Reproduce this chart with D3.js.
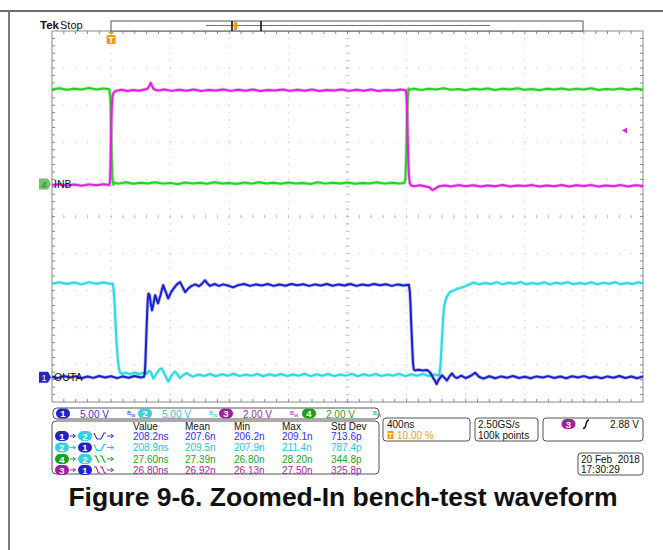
<!DOCTYPE html>
<html><head><meta charset="utf-8">
<script src="https://cdn.jsdelivr.net/npm/d3@7"></script>
<style>body{margin:0;background:#fff}svg{display:block}text{font-family:"Liberation Sans",Arial,sans-serif}</style>
</head><body><svg id="c" width="663" height="550"></svg>
<script>
// ---------- data ----------
const chNames = ["1","2","3","4"];
const chTraceColors = ["#1a20cc","#2ad9e4","#e21ee2","#22d41e"];
const chTextColors = ["#3030e6","#1cc6dc","#b01cb0","#1ea21e"];
const chBadgeColors = ["#2424c4","#36d0e0","#a01ea0","#1e9e1e"];
const chVoltsPerDiv = [5, 5, 2, 2];
const chScaleLabels = ["5.00 V", "5.00 V", "2.00 V", "2.00 V"];
const chOffsetDiv = [-4.33, -4.33, 0.876, 0.876];
const groundLabels = [{ch: 3, text: "INB"}, {ch: 0, text: "OUTA"}];

const timePerDiv = "400ns";
const triggerPos = "10.00 %";
const sampleRate = "2.50GS/s";
const recordLen = "100k points";
const triggerLevel = 2.88;
const triggerLabel = "2.88 V";
const dateText = "20 Feb  2018";
const timeText = "17:30:29";
const titleText = "Figure 9-6. Zoomed-In bench-test waveform";

const measHeaders = ["Value", "Mean", "Min", "Max", "Std Dev"];
const measFrom = [1, 2, 4, 3];
const measTo = [2, 1, 2, 1];
const measEdge = ["fr", "fr", "ff", "ff"];
const measValue = ["208.2ns", "208.9ns", "27.60ns", "26.80ns"];
const measMean = ["207.6n", "209.5n", "27.39n", "26.92n"];
const measMin = ["206.2n", "207.9n", "26.80n", "26.13n"];
const measMax = ["209.1n", "211.4n", "28.20n", "27.50n"];
const measStd = ["713.6p", "787.4p", "344.8p", "325.8p"];

// waveforms: [time ns, volts]
const ch4Wave = [[-400,5.10],[-350,5.16],[-300,5.08],[-250,5.14],[-200,5.09],[-150,5.17],[-100,5.10],[-50,5.15],[-12,5.11],
 [-6,4.7],[-2,3.8],[1,2.6],[4,1.4],[7,0.6],[11,0.15],[16,-0.04],[24,0.08],
 [50,0.02],[100,0.09],[150,0.01],[200,0.07],[250,0.03],[300,0.10],[350,0.02],[400,0.06],[450,-0.01],[500,0.08],[550,0.03],[600,0.07],[650,0.01],[700,0.09],[750,0.03],[800,0.06],[850,0.00],[900,0.08],[950,0.02],[1000,0.09],[1050,0.03],[1100,0.07],[1150,0.01],[1200,0.08],[1250,0.03],[1300,0.06],[1350,0.00],[1400,0.09],[1450,0.02],[1500,0.07],[1550,0.03],[1600,0.08],[1650,0.01],[1700,0.06],[1750,0.03],[1800,0.09],[1850,0.02],[1900,0.07],[1950,0.03],[1985,0.06],
 [1992,0.3],[1996,1.2],[2000,2.5],[2004,3.8],[2008,4.7],[2013,5.15],[2020,5.08],
 [2050,5.14],[2100,5.07],[2150,5.13],[2200,5.09],[2250,5.16],[2300,5.08],[2350,5.12],[2400,5.06],[2450,5.14],[2500,5.09],[2550,5.15],[2600,5.07],[2650,5.13],[2700,5.10],[2750,5.16],[2800,5.08],[2850,5.12],[2900,5.06],[2950,5.14],[3000,5.09],[3050,5.15],[3100,5.08],[3150,5.13],[3200,5.10],[3250,5.16],[3300,5.07],[3350,5.12],[3400,5.09],[3450,5.15],[3500,5.08],[3550,5.13],[3600,5.10]];

const ch3Wave = [[-400,-0.05],[-350,-0.01],[-300,-0.08],[-250,-0.03],[-200,-0.09],[-150,-0.02],[-100,-0.07],[-50,-0.01],[-14,-0.06],
 [-8,0.1],[-5,0.8],[-2,2.0],[1,3.1],[4,4.0],[8,4.6],[13,4.85],[20,4.95],[35,5.02],
 [70,5.08],[110,5.01],[150,5.07],[190,5.03],[225,5.09],[245,5.12],[258,5.28],[268,5.45],[278,5.27],[290,5.10],[320,5.04],
 [360,5.10],[410,5.02],[460,5.08],[510,5.03],[560,5.09],[610,5.01],[660,5.07],[710,5.04],[760,5.10],[810,5.02],[860,5.08],[910,5.03],[960,5.09],[1010,5.01],[1060,5.07],[1110,5.04],[1160,5.10],[1210,5.02],[1260,5.08],[1310,5.03],[1360,5.09],[1410,5.01],[1460,5.07],[1510,5.04],[1560,5.10],[1610,5.02],[1660,5.08],[1710,5.03],[1760,5.09],[1810,5.01],[1860,5.07],[1910,5.04],[1960,5.09],[1995,5.05],
 [2000,4.7],[2004,3.7],[2008,2.4],[2012,1.2],[2016,0.45],[2021,0.05],[2030,-0.08],[2050,-0.12],
 [2090,-0.07],[2130,-0.14],[2155,-0.18],[2175,-0.33],[2195,-0.24],[2220,-0.12],[2260,-0.08],
 [2300,-0.13],[2350,-0.06],[2400,-0.12],[2450,-0.07],[2500,-0.14],[2550,-0.08],[2600,-0.12],[2650,-0.05],[2700,-0.13],[2750,-0.08],[2800,-0.11],[2850,-0.06],[2900,-0.14],[2950,-0.08],[3000,-0.12],[3050,-0.05],[3100,-0.13],[3150,-0.07],[3200,-0.11],[3250,-0.06],[3300,-0.14],[3350,-0.08],[3400,-0.12],[3450,-0.06],[3500,-0.13],[3550,-0.07],[3600,-0.11]];

const ch2Wave = [[-400,12.6],[-350,12.8],[-300,12.55],[-250,12.75],[-200,12.5],[-150,12.8],[-100,12.6],[-50,12.75],[0,12.55],[12,12.6],
 [18,11.5],[24,9.75],[30,7.25],[36,5.0],[42,3.25],[48,1.9],[55,1.0],[62,0.55],[75,0.45],
 [100,0.6],[130,0.4],[160,0.62],[190,0.42],[220,0.58],[242,0.45],
 [255,0.85],[268,0.7],[286,-0.2],[305,0.4],[325,1.0],[342,1.2],[362,0.4],[387,-0.6],[410,0.25],[432,0.75],[448,0.4],[465,-0.12],[490,0.3],[511,0.55],[535,0.25],[555,0.06],
 [590,0.35],[630,0.15],[670,0.42],[710,0.12],[750,0.38],[790,0.18],[830,0.45],[870,0.14],[910,0.36],[950,0.2],[990,0.44],[1030,0.12],[1070,0.38],[1110,0.18],[1150,0.42],[1190,0.15],[1230,0.36],[1270,0.2],[1310,0.45],[1350,0.13],[1390,0.38],[1430,0.18],[1470,0.42],[1510,0.14],[1550,0.36],[1590,0.2],[1630,0.44],[1670,0.12],[1710,0.38],[1750,0.18],[1790,0.42],[1830,0.15],[1870,0.36],[1910,0.2],[1950,0.45],[1990,0.13],[2030,0.38],[2070,0.18],[2110,0.42],[2150,0.15],[2190,0.36],[2215,0.22],
 [2222,0.3],[2230,1.9],[2236,4.0],[2242,6.2],[2248,8.2],[2255,9.6],[2265,10.5],[2280,11.1],[2294,11.5],[2320,11.7],[2340,11.9],[2361,12.0],[2390,12.2],[2420,12.45],[2451,12.75],
 [2490,12.5],[2530,12.7],[2570,12.55],[2610,12.8],[2650,12.5],[2690,12.72],[2730,12.58],[2770,12.8],[2810,12.52],[2850,12.7],[2890,12.55],[2930,12.78],[2970,12.5],[3010,12.72],[3050,12.58],[3090,12.8],[3130,12.52],[3170,12.7],[3210,12.55],[3250,12.78],[3290,12.5],[3330,12.72],[3370,12.58],[3410,12.8],[3450,12.52],[3490,12.7],[3530,12.55],[3570,12.78],[3600,12.6]];

const ch1Wave = [[-400,0.05],[-360,-0.14],[-320,0.15],[-280,-0.06],[-240,0.12],[-200,-0.15],[-160,0.08],[-120,-0.1],[-80,0.15],[-40,-0.05],[0,0.12],[40,-0.13],[80,0.1],[120,-0.08],[160,0.15],[200,-0.06],[222,0.06],
 [228,0.5],[232,2.0],[236,4.25],[240,6.5],[244,8.6],[248,10.4],[253,11.25],[260,11.1],[268,10.0],[277,9.0],[287,9.9],[298,11.05],[308,10.5],[318,9.95],[335,11.1],[352,12.4],[368,11.6],[386,10.6],[405,11.4],[425,12.0],[445,12.5],[467,12.8],[485,12.1],[501,11.45],[520,11.9],[545,12.3],[570,12.5],[595,12.25],[615,12.6],[636,13.05],[655,12.55],[670,12.3],[700,12.55],[730,12.3],[760,12.5],[790,12.35],[826,12.1],[860,12.4],[900,12.55],
 [940,12.3],[980,12.5],[1020,12.35],[1060,12.55],[1100,12.3],[1140,12.48],[1180,12.32],[1220,12.55],[1260,12.38],[1300,12.52],[1340,12.3],[1380,12.5],[1420,12.36],[1460,12.56],[1500,12.32],[1540,12.5],[1580,12.35],[1620,12.55],[1660,12.3],[1700,12.48],[1740,12.34],[1780,12.55],[1820,12.38],[1860,12.52],[1900,12.3],[1940,12.5],[1980,12.36],[2015,12.45],
 [2022,11.5],[2027,9.5],[2031,7.25],[2035,5.6],[2039,3.75],[2043,2.0],[2048,1.1],[2055,0.9],[2080,1.0],[2110,0.9],[2140,0.95],[2160,0.6],[2180,-0.1],[2195,-0.6],[2203,-0.95],[2215,-0.4],[2240,0.25],[2257,-0.1],[2273,-0.45],[2290,0.1],[2307,0.5],[2325,0.05],[2341,-0.12],[2370,0.2],[2400,-0.12],[2430,0.12],[2464,0.6],[2490,0.05],[2520,-0.2],
 [2560,0.12],[2600,-0.14],[2640,0.1],[2680,-0.08],[2720,0.15],[2760,-0.12],[2800,0.06],[2840,-0.15],[2880,0.1],[2920,-0.06],[2960,0.14],[3000,-0.12],[3040,0.08],[3080,-0.15],[3120,0.12],[3160,-0.05],[3200,0.14],[3240,-0.12],[3280,0.06],[3320,-0.14],[3360,0.1],[3400,-0.08],[3440,0.15],[3480,-0.12],[3520,0.08],[3560,-0.15],[3600,0.1]];

const waves = [ch1Wave, ch2Wave, ch3Wave, ch4Wave];
const drawOrder = [3, 2, 1, 0];

// ---------- layout ----------
const svg = d3.select("#c");
const G = {x0: 52, x1: 643, y0: 31, y1: 402};
const nH = 10, nV = 10;
const x = d3.scaleLinear().domain([-400, 3600]).range([G.x0, G.x1]);
const yDiv = d3.scaleLinear().domain([-5, 5]).range([G.y1, G.y0]);
const chY = (ci, v) => yDiv(chOffsetDiv[ci] + v / chVoltsPerDiv[ci]);
const dx = (G.x1 - G.x0) / nH, dy = (G.y1 - G.y0) / nV;

// page frame
svg.append("line").attr("x1", 0).attr("x2", 663).attr("y1", 11).attr("y2", 11).attr("stroke", "#3a3a3a").attr("stroke-width", 1.5);
svg.append("line").attr("x1", 9).attr("x2", 9).attr("y1", 11).attr("y2", 550).attr("stroke", "#7a7a7a").attr("stroke-width", 2);

// grid
const grid = svg.append("g");
const dotCol = "#bdbdbd";
for (let i = 1; i < nH; i++) {
  if (i === nH / 2) continue;
  for (let j = 0; j <= nV * 5; j++) {
    grid.append("rect").attr("x", G.x0 + i * dx - 0.5).attr("y", G.y0 + j * dy / 5 - 0.5).attr("width", 1).attr("height", 1).attr("fill", dotCol);
  }
}
for (let j = 1; j < nV; j++) {
  if (j === nV / 2) continue;
  for (let i = 0; i <= nH * 5; i++) {
    grid.append("rect").attr("x", G.x0 + i * dx / 5 - 0.5).attr("y", G.y0 + j * dy - 0.5).attr("width", 1).attr("height", 1).attr("fill", dotCol);
  }
}
// center lines with ticks
const cx = (G.x0 + G.x1) / 2, cy = (G.y0 + G.y1) / 2;
for (let j = 0; j <= nV * 5; j++) {
  const yy = G.y0 + j * dy / 5;
  grid.append("rect").attr("x", cx - 0.5).attr("y", yy - 0.5).attr("width", 1).attr("height", 1).attr("fill", "#9a9a9a");
  grid.append("line").attr("x1", cx - 2).attr("x2", cx + 2).attr("y1", yy).attr("y2", yy).attr("stroke", "#c8c8c8").attr("stroke-width", 1);
}
for (let i = 0; i <= nH * 5; i++) {
  const xx = G.x0 + i * dx / 5;
  grid.append("rect").attr("x", xx - 0.5).attr("y", cy - 0.5).attr("width", 1).attr("height", 1).attr("fill", "#9a9a9a");
  grid.append("line").attr("x1", xx).attr("x2", xx).attr("y1", cy - 2).attr("y2", cy + 2).attr("stroke", "#c8c8c8").attr("stroke-width", 1);
}
// border + edge ticks
grid.append("rect").attr("x", G.x0).attr("y", G.y0).attr("width", G.x1 - G.x0).attr("height", G.y1 - G.y0)
  .attr("fill", "none").attr("stroke", "#8a8a8a").attr("stroke-width", 1);
for (let i = 1; i < nH * 5; i++) {
  const xx = G.x0 + i * dx / 5;
  grid.append("line").attr("x1", xx).attr("x2", xx).attr("y1", G.y0).attr("y2", G.y0 + 3).attr("stroke", "#8a8a8a");
  grid.append("line").attr("x1", xx).attr("x2", xx).attr("y1", G.y1).attr("y2", G.y1 - 3).attr("stroke", "#8a8a8a");
}
for (let j = 1; j < nV * 5; j++) {
  const yy = G.y0 + j * dy / 5;
  grid.append("line").attr("x1", G.x0).attr("x2", G.x0 + 3).attr("y1", yy).attr("y2", yy).attr("stroke", "#8a8a8a");
  grid.append("line").attr("x1", G.x1).attr("x2", G.x1 - 3).attr("y1", yy).attr("y2", yy).attr("stroke", "#8a8a8a");
}

// traces (soft halo + core, like a persistence display)
const tr = svg.append("g");
drawOrder.forEach(ci => {
  const line = d3.line().x(d => x(d[0])).y(d => chY(ci, d[1]));
  tr.append("path").datum(waves[ci]).attr("d", line).attr("fill", "none")
    .attr("stroke", chTraceColors[ci]).attr("stroke-width", 3.6).attr("stroke-linejoin", "round").attr("opacity", 0.3);
  tr.append("path").datum(waves[ci]).attr("d", line).attr("fill", "none")
    .attr("stroke", chTraceColors[ci]).attr("stroke-width", 2).attr("stroke-linejoin", "round");
});

// top status: Tek Stop + record bar
svg.append("text").attr("x", 40).attr("y", 29).attr("font-size", 11.5).attr("font-weight", "bold").attr("fill", "#111").text("Tek");
svg.append("text").attr("x", 60).attr("y", 29).attr("font-size", 11).attr("fill", "#111").text("Stop");
svg.append("rect").attr("x", 111).attr("y", 21).attr("width", 472).attr("height", 10).attr("fill", "#fff").attr("stroke", "#555").attr("stroke-width", 1);
svg.append("line").attr("x1", 206).attr("x2", 490).attr("y1", 25.5).attr("y2", 25.5).attr("stroke", "#6a6ae8").attr("stroke-width", 1.2);
svg.append("line").attr("x1", 232).attr("x2", 232).attr("y1", 21).attr("y2", 31).attr("stroke", "#111").attr("stroke-width", 1.6);
svg.append("line").attr("x1", 261).attr("x2", 261).attr("y1", 21).attr("y2", 31).attr("stroke", "#111").attr("stroke-width", 1.6);
svg.append("rect").attr("x", 234).attr("y", 22).attr("width", 3).attr("height", 8).attr("fill", "#f09a1a");

// trigger position marker
const tX = x(0);
svg.append("path").attr("d", `M${tX - 3},${G.y0 + 1}L${tX + 3},${G.y0 + 1}L${tX},${G.y0 + 4}Z`).attr("fill", "#f09a1a");
svg.append("rect").attr("x", tX - 4.5).attr("y", G.y0 + 4).attr("width", 9).attr("height", 9).attr("rx", 1.5).attr("fill", "#f09a1a");
svg.append("text").attr("x", tX).attr("y", G.y0 + 11.5).attr("text-anchor", "middle").attr("font-size", 8.5).attr("font-weight", "bold").attr("fill", "#fff").text("T");

// trigger level marker (ch3)
const tlY = chY(2, triggerLevel);
svg.append("path").attr("d", `M${G.x1 - 21},${tlY}L${G.x1 - 16},${tlY - 3}L${G.x1 - 16},${tlY + 3}Z`).attr("fill", chTraceColors[2]);

// ground markers
groundLabels.forEach(g => {
  const yy = chY(g.ch, 0);
  const col = g.ch === 3 ? "#6cc46c" : chBadgeColors[g.ch];
  svg.append("path").attr("d", `M39,${yy - 5.5}H48L51,${yy}L48,${yy + 5.5}H39Z`).attr("fill", col);
  svg.append("text").attr("x", 44).attr("y", yy + 3.5).attr("text-anchor", "middle").attr("font-size", 9)
    .attr("fill", g.ch === 3 ? "#2f7d2f" : "#fff").text(chNames[g.ch]);
  svg.append("text").attr("x", 54).attr("y", yy + 4).attr("font-size", 10.5).attr("fill", "#111").text(g.text);
});

// badge helper
function badge(cx, cy, ci, num) {
  svg.append("rect").attr("x", cx - 7).attr("y", cy - 5).attr("width", 14).attr("height", 10).attr("rx", 5).attr("fill", chBadgeColors[ci]);
  svg.append("text").attr("x", cx).attr("y", cy + 3.5).attr("text-anchor", "middle").attr("font-size", 9.5).attr("font-weight", "bold").attr("fill", "#fff").text(num);
}

// channel scale row
svg.append("rect").attr("x", 53).attr("y", 408).attr("width", 326).attr("height", 11).attr("rx", 4).attr("fill", "#fff").attr("stroke", "#555");
const rowX = [63, 145, 226, 309];
chNames.forEach((n, ci) => {
  badge(rowX[ci], 413.5, ci, n);
  svg.append("text").attr("x", rowX[ci] + 17).attr("y", 417.5).attr("font-size", 10).attr("fill", chTextColors[ci]).text(chScaleLabels[ci]);
  const bx = rowX[ci] + 64;
  const bw = svg.append("text").attr("x", bx).attr("y", 415).attr("font-size", 6).attr("fill", chTextColors[ci]);
  bw.append("tspan").text("B");
  bw.append("tspan").attr("dy", 2).text("w");
});

// measurement table
svg.append("rect").attr("x", 52).attr("y", 421).attr("width", 327).attr("height", 53).attr("rx", 4).attr("fill", "#fff").attr("stroke", "#555");
const colX = [133, 185, 234, 282, 331];
measHeaders.forEach((h, i) => svg.append("text").attr("x", colX[i]).attr("y", 430).attr("font-size", 10).attr("fill", "#111").text(h));
const rowY = [437, 448.5, 460, 471];
const cols = [measValue, measMean, measMin, measMax, measStd];
measFrom.forEach((f, r) => {
  const ci = f - 1, cy2 = rowY[r] - 1;
  const rc = chTextColors[ci];
  badge(62, cy2, ci, String(f));
  svg.append("path").attr("d", `M70,${cy2}H75M73,${cy2 - 1.8}L75.5,${cy2}L73,${cy2 + 1.8}`).attr("stroke", rc).attr("fill", "none").attr("stroke-width", 1);
  badge(85, cy2, measTo[r] - 1, String(measTo[r]));
  let p;
  if (measEdge[r] === "fr") p = `M94,${cy2 - 3}L97,${cy2 + 3}H101L104,${cy2 - 3}H106`;
  else p = `M94,${cy2 - 3}H96L98.5,${cy2 + 3}H100M100,${cy2 - 3}H102L104.5,${cy2 + 3}H106`;
  svg.append("path").attr("d", p).attr("stroke", rc).attr("fill", "none").attr("stroke-width", 1.1);
  svg.append("path").attr("d", `M107,${cy2}H113M111,${cy2 - 1.8}L113.5,${cy2}L111,${cy2 + 1.8}`).attr("stroke", rc).attr("fill", "none").attr("stroke-width", 1);
  cols.forEach((c, k) => svg.append("text").attr("x", colX[k]).attr("y", rowY[r] + 2.5).attr("font-size", 10).attr("fill", rc).text(c[r]));
});

// time box
svg.append("rect").attr("x", 383).attr("y", 418).attr("width", 87).attr("height", 23).attr("rx", 3).attr("fill", "#fff").attr("stroke", "#555");
svg.append("text").attr("x", 387).attr("y", 428).attr("font-size", 10).attr("fill", "#111").text(timePerDiv);
svg.append("rect").attr("x", 387.5).attr("y", 431).attr("width", 6).attr("height", 8).attr("fill", "#f09a1a");
svg.append("text").attr("x", 390.5).attr("y", 438).attr("text-anchor", "middle").attr("font-size", 7).attr("font-weight", "bold").attr("fill", "#fff").text("T");
svg.append("text").attr("x", 397).attr("y", 439).attr("font-size", 10).attr("fill", "#f0a020").text(triggerPos);
// sample box
svg.append("rect").attr("x", 475).attr("y", 418).attr("width", 63).attr("height", 23).attr("rx", 3).attr("fill", "#fff").attr("stroke", "#555");
svg.append("text").attr("x", 478).attr("y", 428).attr("font-size", 10).attr("fill", "#111").text(sampleRate);
svg.append("text").attr("x", 478).attr("y", 439).attr("font-size", 10).attr("fill", "#111").text(recordLen);
// trigger box
svg.append("rect").attr("x", 543).attr("y", 418).attr("width", 100).attr("height", 23).attr("rx", 3).attr("fill", "#fff").attr("stroke", "#555");
badge(568.5, 424, 2, "3");
svg.append("path").attr("d", "M583,428.5C585,428.5 585.5,427 586,424.5C586.5,422 587,420 589,420").attr("stroke", "#111").attr("fill", "none").attr("stroke-width", 1.4);
svg.append("text").attr("x", 639).attr("y", 428).attr("text-anchor", "end").attr("font-size", 10).attr("fill", "#111").text(triggerLabel);
// date box
svg.append("rect").attr("x", 578).attr("y", 453).attr("width", 65).attr("height", 22).attr("rx", 3).attr("fill", "#fff").attr("stroke", "#555");
svg.append("text").attr("x", 581).attr("y", 463).attr("font-size", 10).attr("fill", "#111").style("white-space", "pre").text(dateText);
svg.append("text").attr("x", 581).attr("y", 473).attr("font-size", 10).attr("fill", "#111").text(timeText);

// title
svg.append("text").attr("x", 343).attr("y", 506).attr("text-anchor", "middle").attr("font-size", 26.5).attr("font-weight", "bold").attr("fill", "#111").text(titleText);
</script></body></html>
